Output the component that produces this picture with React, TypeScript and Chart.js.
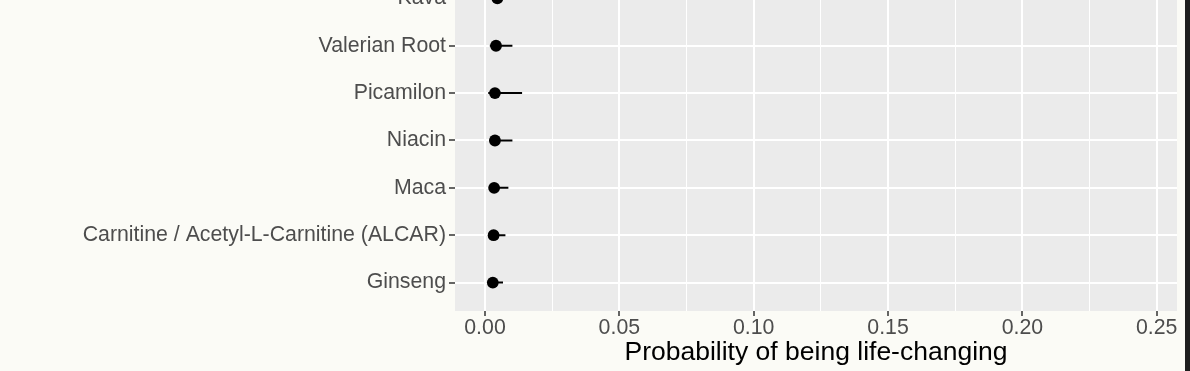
import React, { useEffect, useRef } from "react";
import { Chart, registerables } from "chart.js";

Chart.register(...registerables);

// Rows, top to bottom as shown
const categories = [
  "Kava",
  "Valerian Root",
  "Picamilon",
  "Niacin",
  "Maca",
  "Carnitine / Acetyl-L-Carnitine (ALCAR)",
  "Ginseng",
];
const estimates = [0.0046, 0.0041, 0.0037, 0.0037, 0.0034, 0.0032, 0.0029];
const lowerBounds = [0.002, 0.0018, 0.0012, 0.0016, 0.0015, 0.0014, 0.0012];
const upperBounds = [0.0095, 0.0102, 0.0138, 0.0102, 0.0087, 0.0076, 0.0067];

const majorXTicks = [0, 0.05, 0.1, 0.15, 0.2, 0.25];
const majorXTickLabels = ["0.00", "0.05", "0.10", "0.15", "0.20", "0.25"];
const minorXTicks = [0.025, 0.075, 0.125, 0.175, 0.225];

const xTitle = "Probability of being life-changing";

const FONT = "'Liberation Sans', Arial, Helvetica, sans-serif";
const PAGE_BG = "#FBFBF6";
const PANEL_BG = "#EBEBEB";

const rowPos = (i: number) => categories.length - 1 - i;
const isMajor = (v: number) => majorXTicks.some((m) => Math.abs(m - v) < 1e-9);

const panelPlugin = {
  id: "panelBg",
  beforeDraw(chart: any) {
    const { ctx, chartArea } = chart;
    ctx.save();
    ctx.fillStyle = PAGE_BG;
    ctx.fillRect(0, 0, chart.width, chart.height);
    ctx.fillStyle = PANEL_BG;
    ctx.fillRect(
      chartArea.left,
      chartArea.top,
      chartArea.right - chartArea.left,
      chartArea.bottom - chartArea.top
    );
    ctx.restore();
  },
};

export default function App() {
  const canvasRef = useRef<HTMLCanvasElement | null>(null);

  useEffect(() => {
    document.body.style.margin = "0";
    document.body.style.background = PAGE_BG;
    const canvas = canvasRef.current;
    if (!canvas) return;

    const errorData: any[] = [];
    categories.forEach((_, i) => {
      errorData.push({ x: lowerBounds[i], y: rowPos(i) });
      errorData.push({ x: upperBounds[i], y: rowPos(i) });
      errorData.push({ x: null, y: null });
    });
    const pointData = categories.map((_, i) => ({ x: estimates[i], y: rowPos(i) }));

    const chart = new Chart(canvas, {
      type: "scatter",
      data: {
        datasets: [
          {
            type: "scatter",
            data: pointData,
            pointRadius: 5.9,
            pointBackgroundColor: "#000000",
            pointBorderWidth: 0,
            order: 0,
          } as any,
          {
            type: "line",
            data: errorData,
            borderColor: "#000000",
            borderWidth: 2,
            pointRadius: 0,
            spanGaps: false,
            fill: false,
            order: 1,
          } as any,
        ],
      },
      options: {
        animation: false,
        responsive: true,
        maintainAspectRatio: false,
        events: [],
        layout: { padding: { left: 0, right: 8, top: 0, bottom: 0 } },
        plugins: {
          legend: { display: false },
          tooltip: { enabled: false },
        },
        scales: {
          x: {
            type: "linear",
            min: -0.011166,
            max: 0.25755,
            afterBuildTicks: (scale: any) => {
              scale.ticks = [...majorXTicks, ...minorXTicks]
                .sort((a, b) => a - b)
                .map((v) => ({ value: v }));
            },
            afterFit: (scale: any) => {
              scale.height = 60;
              scale.paddingLeft = 0;
              scale.paddingRight = 0;
            },
            border: { display: false },
            grid: {
              color: "#FFFFFF",
              lineWidth: (ctx: any) => (ctx.tick && isMajor(ctx.tick.value) ? 2 : 1),
              drawTicks: true,
              tickLength: 5,
              tickWidth: 1.5,
              tickColor: (ctx: any) =>
                ctx.tick && isMajor(ctx.tick.value) ? "#333333" : "rgba(0,0,0,0)",
            },
            ticks: {
              autoSkip: false,
              maxRotation: 0,
              padding: 1,
              color: "#4D4D4D",
              font: { family: FONT, size: 21.3, lineHeight: 1 },
              callback: (value: any) => {
                const idx = majorXTicks.findIndex((m) => Math.abs(m - Number(value)) < 1e-9);
                return idx >= 0 ? majorXTickLabels[idx] : "";
              },
            },
            title: {
              display: true,
              text: xTitle,
              color: "#000000",
              font: { family: FONT, size: 26.5, lineHeight: 1.2 },
              padding: { top: 0, bottom: 2 },
            },
          },
          y: {
            type: "linear",
            min: -0.6,
            max: 6.39,
            afterBuildTicks: (scale: any) => {
              scale.ticks = categories.map((_, i) => ({ value: rowPos(i) }));
            },
            afterFit: (scale: any) => {
              scale.width = 455;
              scale.paddingTop = 0;
              scale.paddingBottom = 0;
            },
            border: { display: false },
            grid: {
              color: "#FFFFFF",
              lineWidth: 2,
              drawTicks: true,
              tickLength: 6,
              tickWidth: 1.5,
              tickColor: "#333333",
            },
            ticks: {
              autoSkip: false,
              padding: 3,
              color: "#4D4D4D",
              font: { family: FONT, size: 21.3, lineHeight: 1 },
              callback: (value: any) => {
                const idx = categories.length - 1 - Math.round(Number(value));
                return categories[idx] ?? "";
              },
            },
          },
        },
      },
      plugins: [panelPlugin],
    } as any);

    return () => chart.destroy();
  }, []);

  return (
    <div style={{ position: "fixed", left: 0, top: 0, width: 1190, height: 371, background: PAGE_BG, overflow: "hidden" }}>
      <div style={{ position: "absolute", left: 0, top: -26, width: 1185, height: 397 }}>
        <canvas ref={canvasRef} />
      </div>
      <div style={{ position: "absolute", left: 1185, top: 0, width: 5, height: 371, background: "#1E1E1E" }} />
    </div>
  );
}
